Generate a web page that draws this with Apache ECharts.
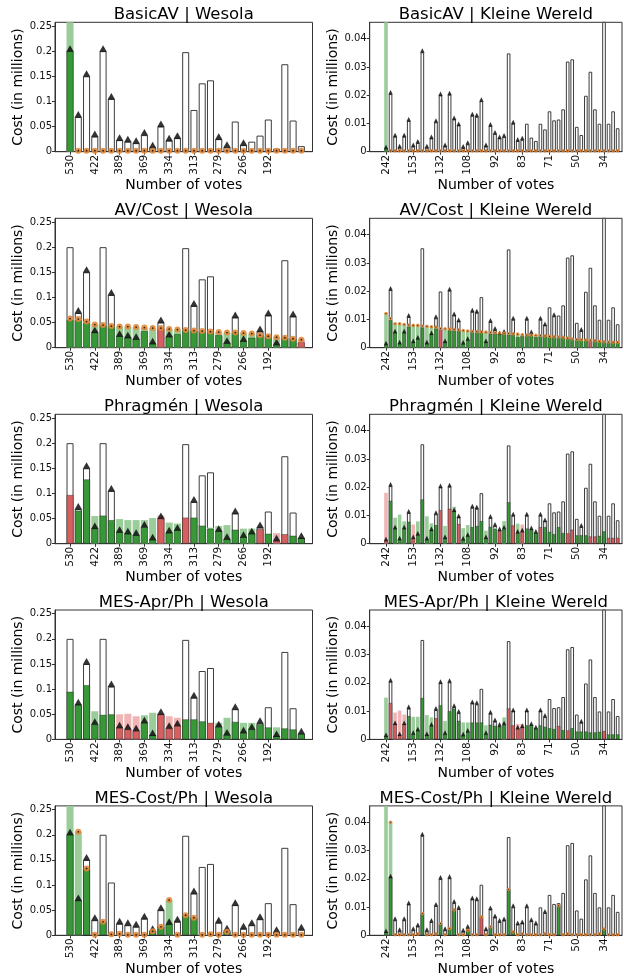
<!DOCTYPE html>
<html><head><meta charset="utf-8">
<script src="https://cdn.jsdelivr.net/npm/echarts@6/dist/echarts.min.js"></script>
<style>html,body{margin:0;padding:0;background:#fff}#c{width:624px;height:978px}</style>
</head><body><div id="c"></div>
<script>
const _ = null;
// ---------------- Wesola (29 projects) ----------------
const wesolaTicks = ['530','422','389','369','334','313','279','266','192'];
const wesolaTickPos = [0,3,6,9,12,15,18,21,24];
const wesolaYTicks = [0,0.05,0.1,0.15,0.2,0.25];
const wesolaCost = [0.2,0.069,0.15,0.03,0.2,0.105,0.023,0.02,0.017,0.033,0.008,0.05,0.022,0.027,0.198,0.083,0.136,0.142,0.025,0.009,0.06,0.013,0.02,0.032,0.064,0.006,0.174,0.062,0.011];

const basicW_dark = [0.2,_,_,_,_,_,_,_,_,_,_,_,_,_,_,_,_,_,_,_,_,_,_,_,_,_,_,_,_];
const basicW_light = [0.3,_,_,_,_,_,_,_,_,_,_,_,_,_,_,_,_,_,_,_,_,_,_,_,_,_,_,_,_];
const basicW_dots = [_,0.002,0.002,0.002,0.002,0.002,0.002,0.002,0.002,0.002,0.002,0.002,0.002,0.002,0.002,0.002,0.002,0.002,0.002,0.002,0.002,0.002,0.002,0.002,0.002,0.002,0.002,0.002,0.002];
const basicW_win = [0,1,2,3,4,5,6,7,8,9,10,11,12,13,18,19,21];

const avcW_dark = [0.056,0.055,0.05,0.03,0.045,0.043,0.023,0.02,0.017,0.033,0.008,0.039,0.022,0.027,0.035,0.034,0.033,0.032,0.025,0.009,0.03,0.013,0.02,0.025,0.023,0.006,0.02,0.018,0.011];
const avcW_col = 'ggggggggggg'+'r'+'gggggggggggggggg'+'r';
const avcW_light = [0.058,0.057,0.052,0.046,0.045,0.043,0.042,0.042,0.041,0.040,0.039,0.039,0.037,0.036,0.035,0.034,0.033,0.032,0.031,0.030,0.030,0.029,0.028,0.025,0.023,0.021,0.020,0.018,0.016];
const avcW_dots = [0.058,0.057,0.052,0.046,0.045,0.043,0.042,0.042,0.041,0.040,0.039,0.039,0.037,0.036,0.035,0.034,0.033,0.032,0.031,0.030,0.030,0.029,0.028,0.025,0.023,0.021,0.020,0.018,0.016];
const avcW_win = [1,2,3,5,6,7,8,10,11,12,15,19,20,21,23,24,25,27];

const phW_dark = [0.097,0.066,0.128,0.03,0.056,0.047,0.023,0.02,0.017,0.033,0.008,0.05,0.022,0.027,0.052,0.052,0.036,0.03,0.025,0.009,0.028,0.013,0.02,0.029,0.02,0.006,0.019,0.016,0.011];
const phW_col = 'r'+'gggggggggg'+'r'+'gg'+'r'+'gggggggg'+'r'+'g'+'rr'+'gg';
const phW_light = [_,_,_,0.055,_,_,0.049,0.047,0.047,0.047,0.051,0.056,0.042,0.04,_,_,_,0.032,0.035,0.037,_,0.03,0.03,_,_,0.021,_,_,_];
const phW_win = [1,2,3,5,6,7,8,9,10,11,12,13,15,18,19,20,21,22,23,25,28];

const mesaW_dark = [0.095,0.069,0.108,0.03,0.049,0.05,0.023,0.02,0.017,0.033,0.008,0.05,0.022,0.027,0.04,0.04,0.036,0.033,0.025,0.009,0.035,0.013,0.02,0.03,0.024,0.006,0.022,0.02,0.011];
const mesaW_col = 'gggggg'+'rrr'+'gg'+'rrr'+'ggg'+'r'+'ggggggggggg';
const mesaW_light = [_,_,_,0.056,_,_,0.05,0.051,0.046,0.048,0.053,_,0.046,0.043,_,_,_,_,0.033,0.043,_,0.033,0.033,_,_,0.024,_,_,_];
const mesaW_win = [1,2,3,5,6,7,8,9,10,11,12,13,15,18,19,20,21,22,23,25,28];

const mescW_dark = [0.2,0.069,0.133,_,0.027,_,_,_,_,_,0.008,0.017,0.022,_,0.04,0.035,_,_,_,0.007,_,_,_,_,_,_,_,_,_];
const mescW_light = [0.3,0.206,_,_,_,_,_,_,_,_,_,_,0.07,_,_,_,_,_,_,_,_,_,_,_,_,_,_,_,_];
const mescW_dots = [_,0.206,0.133,0.001,0.027,0.002,0.003,0.001,0.001,0.001,0.008,0.017,0.07,0.001,0.04,0.035,0.001,0.002,0.001,0.007,0.001,0.001,0.001,0.001,0.001,0.001,0.001,0.001,0.001];
const mescW_win = [0,1,2,3,6,7,8,9,10,11,12,13,15,18,19,20,21,22,23,25,28];

// ---------------- Kleine Wereld (52 projects) ----------------
const kwTicks = ['242','153','132','108','92','83','71','50','34'];
const kwTickPos = [0,6,12,18,24,30,36,42,48];
const kwYTicks = [0,0.01,0.02,0.03,0.04];
const kwCost = [0.001,0.0204,0.0053,0.0014,0.0053,0.0109,0.0018,0.0031,0.0352,0.0014,0.0047,0.0104,0.0199,0.0018,0.0202,0.0114,0.0093,0.0013,0.0026,0.0127,0.0124,0.0179,0.0018,0.0091,0.0063,0.0047,0.0052,0.0348,0.0099,0.0038,0.0042,0.0099,0.005,0.0038,0.0099,0.0079,0.0143,0.0111,0.0114,0.015,0.0319,0.0327,0.0088,0.0059,0.0198,0.0283,0.015,0.0099,0.05,0.0099,0.0143,0.0083];

const basicK_dark = [0.001,0.0008,_,_,_,_,_,_,_,_,_,_,_,_,_,_,_,_,_,_,_,_,_,_,_,_,_,_,_,_,_,_,_,_,_,_,_,_,_,_,_,_,_,_,_,_,_,_,_,_,_,_];
const basicK_col = 'gr';
const basicK_light = [0.1,_,_,_,_,_,_,_,_,_,_,_,_,_,_,_,_,_,_,_,_,_,_,_,_,_,_,_,_,_,_,_,_,_,_,_,_,_,_,_,_,_,_,_,_,_,_,_,_,_,_,_];
const basicK_dots = [_,0.0003,0.0003,0.0003,0.0003,0.0003,0.0003,0.0003,0.0003,0.0003,0.0003,0.0003,0.0003,0.0003,0.0003,0.0003,0.0003,0.0003,0.0003,0.0003,0.0003,0.0003,0.0003,0.0003,0.0003,0.0003,0.0003,0.0003,0.0003,0.0003,0.0003,0.0003,0.0003,0.0003,0.0003,0.0003,0.0003,0.0003,0.0003,0.0003,0.0003,0.0003,0.0003,0.0003,0.0003,0.0003,0.0003,0.0003,0.0003,0.0003,0.0003,0.0003];
const basicK_win = [0,1,2,3,4,5,6,7,8,9,10,11,12,13,14,15,16,17,18,19,20,21,22,23,24,25,26,28,29,30];

const avcK_dark = [0.001,0.0098,0.0053,0.0014,0.0053,0.0075,0.0018,0.0031,0.0072,0.0014,0.0047,0.0068,0.0066,0.0018,0.0062,0.0061,0.006,0.0013,0.0026,0.0055,0.0055,0.0054,0.0018,0.005,0.005,0.0047,0.0048,0.0047,0.0046,0.0038,0.0042,0.0044,0.0044,0.0038,0.0042,0.0041,0.0039,0.0038,0.0037,0.0036,0.0033,0.003,0.0028,0.0027,0.0026,0.0025,0.0024,0.0022,0.002,0.0019,0.0018,0.0018];
const avcK_col = 'gggggggggggg'+'r'+'gggggggggggggggggggggggggggggggg'+'r'+'gggggg';
const avcK_light = [0.0121,0.0103,0.0085,0.0085,0.0082,0.0080,0.0079,0.0079,0.0077,0.0076,0.0074,0.0073,0.0068,0.0067,0.0066,0.0064,0.0063,0.0061,0.0059,0.0058,0.0057,0.0056,0.0055,0.0054,0.0053,0.0052,0.0051,0.0050,0.0049,0.0048,0.0046,0.0045,0.0045,0.0044,0.0043,0.0042,0.0040,0.0039,0.0038,0.0037,0.0034,0.0031,0.0029,0.0028,0.0027,0.0026,0.0025,0.0023,0.0021,0.0020,0.0019,0.0019];
const avcK_dots = [0.0121,0.0103,0.0085,0.0085,0.0082,0.0080,0.0079,0.0079,0.0077,0.0076,0.0074,0.0073,0.0068,0.0067,0.0066,0.0064,0.0063,0.0061,0.0059,0.0058,0.0057,0.0056,0.0055,0.0054,0.0053,0.0052,0.0051,0.0050,0.0049,0.0048,0.0046,0.0045,0.0045,0.0044,0.0043,0.0042,0.0040,0.0039,0.0038,0.0037,0.0034,0.0031,0.0029,0.0028,0.0027,0.0026,0.0025,0.0023,0.0021,0.0020,0.0019,0.0019];
const avcK_win = [0,1,2,3,4,5,6,7,9,10,11,13,14,15,16,17,18,19,20,22,23,24,25,26,28,31,32,34,35,37,43];

const phK_dark = [0.001,0.0152,0.0053,0.0014,0.0053,0.0078,0.0018,0.0031,0.0157,0.0014,0.0047,0.0066,0.0119,0.0018,0.0124,0.0114,0.007,0.0013,0.0026,0.0059,0.0063,0.008,0.0018,0.006,0.0052,0.0045,0.005,0.0147,0.0065,0.0038,0.0042,0.0054,0.005,0.0038,0.0059,0.0059,0.0042,0.0034,0.0059,0.0038,0.0037,0.005,0.003,0.003,0.003,0.0026,0.0026,0.0028,0.0044,0.0021,0.0021,0.0021];
const phK_col = 'rgggggrggg'+'ggrgrgrggg'+'gggggrggrg'+'rgggrggggg'+'rrgggrrggr'+'rr';
const phK_light = [0.018,_,0.0092,0.0103,0.0079,_,0.0068,0.0079,_,0.0097,0.0072,_,_,0.0063,_,0.0131,_,0.0055,0.0066,_,_,_,0.0046,_,0.0055,_,0.008,_,_,0.0071,0.0068,_,_,_,_,_,_,_,_,_,_,_,_,_,_,_,_,_,_,_,_,_];
const phK_win = [0,1,2,3,4,5,6,7,9,10,11,12,13,14,15,16,17,18,19,20,22,23,24,25,26,28,29,30,31,32,33,34,35,43];

const mesaK_dark = [0.001,0.0129,0.0053,0.0014,0.0053,0.0083,0.0018,0.0031,0.0147,0.0014,0.0047,0.0075,0.0121,0.0018,0.01,0.0109,0.0066,0.0013,0.0026,0.006,0.006,0.006,0.0018,0.0052,0.0048,0.0045,0.005,0.011,0.005,0.0038,0.0042,0.005,0.005,0.0038,0.005,0.0045,0.004,0.0037,0.0048,0.0033,0.0032,0.004,0.0028,0.0028,0.0028,0.0025,0.0025,0.0027,0.003,0.0018,0.0018,0.0018];
const mesaK_col = 'grrrrggggg'+'grgggggggg'+'gggggggrrr'+'rgggggggrg'+'rgggggggrg'+'gg';
const mesaK_light = [0.0148,_,0.0095,0.0102,0.0088,_,0.008,0.008,_,0.0086,0.0078,_,_,0.0065,_,_,_,0.006,0.006,_,_,_,0.005,_,_,_,0.0078,_,_,0.0055,0.0055,_,_,_,_,_,_,_,_,_,_,_,_,_,_,_,_,_,_,_,_,_];
const mesaK_win = [0,1,2,3,4,5,6,7,9,10,11,12,13,14,15,16,17,18,19,20,22,23,24,25,26,28,29,30,31,32,33,34,35,43];

const mescK_dark = [0.001,0.0205,_,_,_,_,_,_,0.0077,_,_,_,0.0042,_,0.0024,0.009,_,_,0.0018,_,_,0.0065,_,0.003,_,_,_,0.0163,0.0012,_,_,_,_,_,_,_,_,_,0.0105,_,_,_,_,_,_,_,_,_,0.0022,_,_,_];
const mescK_col = 'ggggggggggggggggggggg'+'r'+'gggggggggggggggggggggggggggggg';
const mescK_light = [0.1,0.04,_,_,_,_,_,_,_,_,_,_,_,_,_,_,_,_,_,_,_,_,_,_,_,_,_,_,_,_,_,_,_,_,_,_,_,_,_,_,_,_,_,_,_,_,_,_,_,_,_,_];
const mescK_dots = [_,0.04,0.0002,0.0002,0.0002,0.0002,0.0002,0.0005,0.0077,0.0002,0.0002,0.0005,0.0042,0.0002,0.0024,0.009,0.0002,0.0002,0.0018,0.0002,0.0002,0.0065,0.0002,0.003,0.0002,0.0002,0.0002,0.0163,0.0012,0.0002,0.0005,0.0002,0.0002,0.0002,0.0002,0.0005,0.0002,0.0002,0.0105,0.0002,0.0005,0.0002,0.0002,0.0002,0.0002,0.0002,0.0002,0.0005,0.0022,0.0002,0.0002,0.0002];
const mescK_win = [0,1,2,3,4,5,6,7,8,9,10,11,12,13,14,15,16,17,18,19,20,22,23,24,25,26,28,29,30,31,32,33,35];

// ---------------- layout / style ----------------
const FONT = "'DejaVu Sans', sans-serif";
const GREEN = '#389838', RED = '#d65f5f', LGREEN = '#9acd9a', LRED = '#efb4b4', ORANGE = '#e2883a';
const dsW = {name:'Wesola', cost:wesolaCost, ticks:wesolaTicks, tickPos:wesolaTickPos, yTicks:wesolaYTicks,
  yMax:0.2574, xMin:-1.82, xMax:29.35, barFrac:0.85, tri:[7.5,6.5], dot:6, cdot:1.7};
const dsK = {name:'Kleine Wereld', cost:kwCost, ticks:kwTicks, tickPos:kwTickPos, yTicks:kwYTicks,
  yMax:0.0458, xMin:-3.59, xMax:51.96, barFrac:0.8, tri:[4.5,4.5], dot:3.6, cdot:1.1};

const rules = [
  {t:'BasicAV', W:{dark:basicW_dark, light:basicW_light, dots:basicW_dots, win:basicW_win},
                K:{dark:basicK_dark, col:basicK_col, light:basicK_light, dots:basicK_dots, win:basicK_win}},
  {t:'AV/Cost', W:{dark:avcW_dark, col:avcW_col, light:avcW_light, dots:avcW_dots, win:avcW_win},
                K:{dark:avcK_dark, col:avcK_col, light:avcK_light, dots:avcK_dots, win:avcK_win}},
  {t:'Phragmén', W:{dark:phW_dark, col:phW_col, light:phW_light, win:phW_win},
                K:{dark:phK_dark, col:phK_col, light:phK_light, win:phK_win}},
  {t:'MES-Apr/Ph', W:{dark:mesaW_dark, col:mesaW_col, light:mesaW_light, win:mesaW_win},
                K:{dark:mesaK_dark, col:mesaK_col, light:mesaK_light, win:mesaK_win}},
  {t:'MES-Cost/Ph', W:{dark:mescW_dark, light:mescW_light, dots:mescW_dots, win:mescW_win},
                K:{dark:mescK_dark, col:mescK_col, light:mescK_light, dots:mescK_dots, win:mescK_win}}
];

const colLeft = [55, 369.7], colWidth = [257.5, 252.3];
const rowTop = [22.3, 218.3, 414.3, 610, 805.9], plotH = 129.4;

const grids = [], xAxes = [], yAxes = [], series = [], titles = [];
const axisColor = '#333';

function barData(arr, col, c1, c2) {
  const out = [];
  arr.forEach((v, i) => { if (v != null) out.push({value:[i, v], itemStyle:{color: (col && col[i] === 'r') ? c2 : c1}}); });
  return out;
}

rules.forEach((rule, r) => {
  [dsW, dsK].forEach((d, c) => {
    const k = grids.length;
    const p = c === 0 ? rule.W : rule.K;
    const left = colLeft[c], width = colWidth[c], top = rowTop[r];
    const unit = width / (d.xMax - d.xMin);
    const bw = d.barFrac * unit;
    grids.push({left, top, width, height: plotH, show: true, borderColor: axisColor, borderWidth: 1,
      backgroundColor: 'transparent', containLabel: false, outerBoundsMode: 'none'});
    titles.push({text: rule.t + ' | ' + d.name, left: left + width / 2, top: top - 16, textAlign: 'center', padding: 0,
      textStyle: {fontSize: 16.5, fontWeight: 'normal', color: '#000', fontFamily: FONT}});
    xAxes.push({type: 'value', gridIndex: k, min: d.xMin, max: d.xMax,
      name: 'Number of votes', nameLocation: 'middle', nameGap: 25,
      nameTextStyle: {fontSize: 14, color: '#000', fontFamily: FONT},
      axisLine: {show: true, onZero: false, lineStyle: {color: axisColor, width: 1}},
      axisTick: {show: true, length: 3, customValues: d.tickPos, lineStyle: {color: axisColor}},
      axisLabel: {rotate: 90, fontSize: 10.5, color: '#111', fontFamily: FONT, margin: 3, customValues: d.tickPos,
        formatter: v => d.ticks[d.tickPos.indexOf(Math.round(v))] || ''},
      splitLine: {show: false}});
    yAxes.push({type: 'value', gridIndex: k, min: 0, max: d.yMax,
      name: 'Cost (in millions)', nameLocation: 'middle', nameGap: 28,
      nameTextStyle: {fontSize: 14, color: '#000', fontFamily: FONT},
      axisLine: {show: true, onZero: false, lineStyle: {color: axisColor, width: 1}},
      axisTick: {show: true, length: 3, customValues: d.yTicks, lineStyle: {color: axisColor}},
      axisLabel: {fontSize: 10, color: '#111', fontFamily: FONT, margin: 3, customValues: d.yTicks,
        formatter: v => String(v)},
      splitLine: {show: false}});
    const common = {type: 'bar', xAxisIndex: k, yAxisIndex: k, barWidth: bw, barGap: '-100%', clip: true, silent: true};
    series.push(Object.assign({}, common, {z: 1, data: d.cost.map((v, i) => [i, v]),
      itemStyle: {color: '#fff', borderColor: '#3c3c3c', borderWidth: 1}}));
    series.push(Object.assign({}, common, {z: 2, data: barData(p.light, p.col, LGREEN, LRED)}));
    series.push(Object.assign({}, common, {z: 3, data: barData(p.dark, p.col, GREEN, RED),
      itemStyle: {borderColor: 'rgba(0,0,0,0.45)', borderWidth: 0.7}}));
    series.push({type: 'scatter', xAxisIndex: k, yAxisIndex: k, z: 5, silent: true, clip: false,
      symbol: 'triangle', symbolSize: d.tri, symbolOffset: [0, -d.tri[1] / 2 + 0.5],
      itemStyle: {color: '#000'}, data: p.win.map(i => [i, d.cost[i]])});
    if (p.dots) {
      const dd = [];
      p.dots.forEach((v, i) => { if (v != null) dd.push([i, v]); });
      series.push({type: 'scatter', xAxisIndex: k, yAxisIndex: k, z: 6, silent: true, clip: false,
        symbol: 'circle', symbolSize: d.dot, itemStyle: {color: ORANGE, opacity: 0.9}, data: dd});
      series.push({type: 'scatter', xAxisIndex: k, yAxisIndex: k, z: 7, silent: true, clip: false,
        symbol: 'circle', symbolSize: d.cdot, itemStyle: {color: '#000'}, data: dd});
    }
  });
});

const chart = echarts.init(document.getElementById('c'), null, {renderer: 'canvas'});
chart.setOption({animation: false, backgroundColor: '#fff', textStyle: {fontFamily: FONT},
  title: titles, grid: grids, xAxis: xAxes, yAxis: yAxes, series: series});
</script></body></html>
